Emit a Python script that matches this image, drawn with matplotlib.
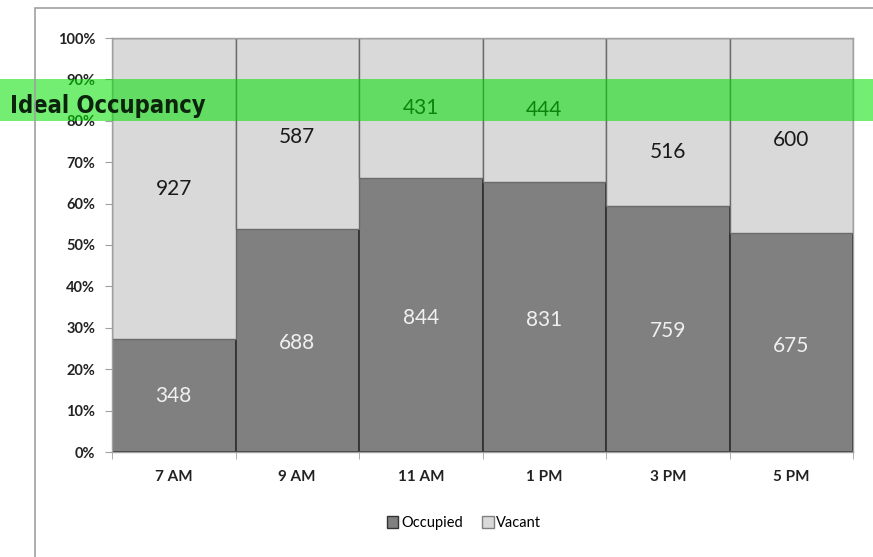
import numpy as np
import matplotlib.pyplot as plt
from matplotlib.patches import Rectangle, Patch

# data
times = ["7 AM", "9 AM", "11 AM", "1 PM", "3 PM", "5 PM"]
occupied = [348, 688, 844, 831, 759, 675]
vacant = [927, 587, 431, 444, 516, 600]
ideal_lo, ideal_hi = 80, 90

plt.rcParams['font.family'] = ['Lato', 'DejaVu Sans']

occ = np.array(occupied, dtype=float)
vac = np.array(vacant, dtype=float)
total = occ + vac
occ_pct = occ / total * 100
vac_pct = vac / total * 100
x = np.arange(len(times))

# small manual nudges of the label placement (percentage points)
vac_nudge = [0, -0.8, 0, 0, -7.2, -1]
occ_nudge = [0, -0.7, -0.7, -0.7, -0.6, -0.9]

fig = plt.figure(figsize=(8.73, 5.57), dpi=100)
ax = fig.add_axes([112 / 873, 1 - 452 / 557, 741 / 873, 414 / 557])

# outer chart border
fig.patches.append(Rectangle((35 / 873, -0.1), 1.2, 1 - 8 / 557 + 0.1,
                             transform=fig.transFigure, fill=False,
                             edgecolor='#a0a0a0', linewidth=1.2))

ax.bar(x, occ_pct, width=1.0, color='#808080', edgecolor='#333333',
       linewidth=1.3, label='Occupied')
ax.bar(x, vac_pct, width=1.0, bottom=occ_pct, color='#d9d9d9',
       edgecolor='#6a6a6a', linewidth=1.0, label='Vacant')

for i in range(len(times)):
    ax.text(x[i], occ_pct[i] / 2 + occ_nudge[i], str(occupied[i]), ha='center',
            va='center', fontsize=15, color='#f0f0f0')
    ax.text(x[i], occ_pct[i] + vac_pct[i] / 2 + vac_nudge[i], str(vacant[i]),
            ha='center', va='center', fontsize=15, color='#1a1a1a')

ax.set_xlim(-0.5, len(times) - 0.5)
ax.set_ylim(0, 100)
ax.set_yticks(np.arange(0, 101, 10))
ax.set_yticklabels([f"{v}%" for v in range(0, 101, 10)], fontsize=10.5,
                   fontweight='bold', color='#222222')
ax.set_xticks(x)
ax.set_xticklabels(times, fontsize=11, fontweight='bold', color='#222222')
ax.set_xticks(np.arange(-0.5, len(times)), minor=True)
ax.tick_params(axis='x', which='major', length=0, pad=13)
ax.tick_params(axis='x', which='minor', length=5, color='#a0a0a0', direction='out')
ax.tick_params(axis='y', length=5, color='#a0a0a0', pad=7)
for s in ax.spines.values():
    s.set_color('#a0a0a0')
    s.set_linewidth(1.0)

# ideal occupancy band stretched across the whole figure
ax.axhspan(ideal_lo, ideal_hi, xmin=-0.2, xmax=1.1, clip_on=False,
           color='#00e000', alpha=0.55, linewidth=0, zorder=10)
ax.text(-0.138, (ideal_lo + ideal_hi) / 2 - 1.5, "Ideal Occupancy",
        transform=ax.get_yaxis_transform(), ha='left', va='center',
        fontsize=17, fontweight='bold', fontstretch='condensed',
        color='#0c240c', zorder=11, family=['DejaVu Sans'])

handles = [Patch(facecolor='#808080', edgecolor='#333333', label='Occupied'),
           Patch(facecolor='#d9d9d9', edgecolor='#808080', label='Vacant')]
fig.legend(handles=handles, loc='center', bbox_to_anchor=(464 / 873, 1 - 523 / 557),
           ncol=2, frameon=False, fontsize=10.5, handlelength=0.8,
           handleheight=0.8, handletextpad=0.2, columnspacing=1.3)

fig.savefig("out.png", dpi=100)
